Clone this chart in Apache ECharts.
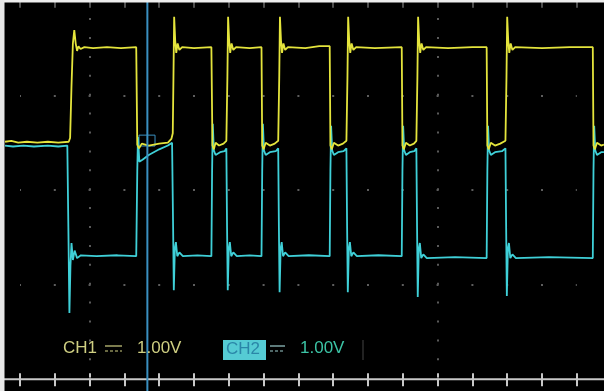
<!DOCTYPE html>
<html>
<head>
<meta charset="utf-8">
<script src="https://cdn.jsdelivr.net/npm/echarts@6/dist/echarts.min.js"></script>
<style>
html,body{margin:0;padding:0;background:#000;}
#c{width:604px;height:391px;}
</style>
</head>
<body>
<div id="c"></div>
<script>
// x in horizontal tick units, y in divisions (1.00 V/div)
var xTicks = {min: 1, max: 17, step: 1};
var xView = {min: 0.569, max: 17.782};
var yDivs = {min: -2, max: 2, step: 1};

var ch1 = [
[0.57,0.51],[0.75,0.52],[0.95,0.50],[1.2,0.51],[1.5,0.50],[1.8,0.51],[2.1,0.50],[2.40,0.51],
[2.44,0.55],[2.48,1.10],[2.52,1.55],[2.56,1.69],[2.60,1.55],[2.64,1.47],[2.68,1.52],[2.74,1.49],[2.85,1.51],[3.1,1.50],[3.5,1.51],[3.9,1.50],[4.34,1.51],
[4.37,0.48],[4.42,0.44],[4.5,0.49],[4.7,0.47],[5.0,0.49],[5.25,0.50],[5.35,0.54],[5.39,0.60],
[5.41,1.20],[5.43,1.83],[5.46,1.58],[5.49,1.45],[5.53,1.55],[5.58,1.48],[5.66,1.51],[6.0,1.50],[6.5,1.51],
[6.53,0.47],[6.57,0.43],[6.62,0.50],[6.72,0.47],[6.85,0.49],[6.93,0.52],
[6.96,1.20],[6.98,1.83],[7.01,1.58],[7.04,1.45],[7.08,1.55],[7.13,1.48],[7.21,1.51],[7.6,1.50],[7.94,1.51],
[7.96,0.47],[8.0,0.43],[8.06,0.50],[8.18,0.47],[8.32,0.49],[8.42,0.52],
[8.45,1.20],[8.47,1.83],[8.50,1.58],[8.53,1.45],[8.57,1.55],[8.62,1.48],[8.70,1.51],[9.2,1.50],[9.6,1.52],[9.90,1.52],
[9.92,0.47],[9.96,0.43],[10.02,0.50],[10.14,0.47],[10.28,0.49],[10.38,0.52],
[10.41,1.20],[10.43,1.83],[10.46,1.58],[10.49,1.45],[10.53,1.55],[10.58,1.48],[10.66,1.51],[11.2,1.50],[11.97,1.51],
[11.99,0.47],[12.03,0.43],[12.09,0.50],[12.2,0.47],[12.32,0.49],[12.39,0.52],
[12.42,1.20],[12.44,1.83],[12.47,1.58],[12.50,1.45],[12.54,1.55],[12.59,1.48],[12.67,1.51],[13.3,1.50],[14.0,1.51],[14.41,1.51],
[14.43,0.47],[14.47,0.43],[14.53,0.50],[14.65,0.47],[14.8,0.49],[14.95,0.52],
[14.98,1.20],[15.00,1.83],[15.03,1.58],[15.06,1.45],[15.10,1.55],[15.15,1.48],[15.23,1.51],[16.0,1.50],[16.8,1.51],[17.46,1.51],
[17.48,0.47],[17.52,0.43],[17.58,0.50],[17.7,0.47],[17.78,0.48]
];

var ch2 = [
[0.57,0.47],[0.8,0.46],[1.1,0.47],[1.4,0.46],[1.8,0.47],[2.1,0.46],[2.36,0.47],
[2.39,-0.40],[2.42,-1.30],[2.45,-0.80],[2.48,-0.56],[2.52,-0.74],[2.57,-0.64],[2.64,-0.72],[2.75,-0.69],[3.2,-0.70],[3.8,-0.69],[4.34,-0.70],
[4.37,0.20],[4.39,0.56],[4.43,0.30],[4.52,0.32],[4.7,0.37],[5.0,0.43],[5.25,0.47],[5.37,0.50],
[5.40,-0.40],[5.42,-1.06],[5.45,-0.62],[5.48,-0.55],[5.52,-0.70],[5.58,-0.66],[5.68,-0.70],[6.1,-0.69],[6.5,-0.70],
[6.52,0.20],[6.54,0.70],[6.57,0.42],[6.62,0.37],[6.75,0.40],[6.88,0.41],[6.93,0.44],
[6.95,-0.40],[6.97,-1.06],[7.00,-0.62],[7.03,-0.55],[7.07,-0.70],[7.13,-0.66],[7.23,-0.70],[7.6,-0.69],[7.94,-0.70],
[7.96,0.20],[7.98,0.70],[8.01,0.42],[8.06,0.37],[8.18,0.40],[8.35,0.41],[8.42,0.44],
[8.44,-0.40],[8.46,-1.08],[8.49,-0.62],[8.52,-0.55],[8.56,-0.70],[8.62,-0.66],[8.72,-0.70],[9.3,-0.69],[9.90,-0.70],
[9.92,0.20],[9.94,0.68],[9.97,0.42],[10.02,0.37],[10.14,0.40],[10.3,0.41],[10.38,0.44],
[10.40,-0.40],[10.42,-1.08],[10.45,-0.62],[10.48,-0.55],[10.52,-0.70],[10.58,-0.66],[10.68,-0.70],[11.3,-0.69],[11.97,-0.70],
[11.99,0.20],[12.01,0.68],[12.04,0.42],[12.09,0.37],[12.2,0.40],[12.33,0.41],[12.39,0.44],
[12.41,-0.40],[12.43,-1.13],[12.46,-0.62],[12.49,-0.56],[12.53,-0.72],[12.59,-0.68],[12.69,-0.72],[13.5,-0.71],[14.41,-0.72],
[14.43,0.20],[14.45,0.68],[14.48,0.42],[14.53,0.37],[14.65,0.40],[14.85,0.41],[14.95,0.44],
[14.97,-0.40],[14.99,-1.12],[15.02,-0.62],[15.05,-0.56],[15.09,-0.72],[15.15,-0.68],[15.25,-0.72],[16.2,-0.71],[17.46,-0.72],
[17.48,0.20],[17.50,0.68],[17.53,0.42],[17.58,0.37],[17.7,0.40],[17.78,0.40]
];

var dotColumns = [3, 13];
var cursorX = 4.66;
var triggerBox = [[4.42, 0.58], [4.88, 0.465]];
var labels = {ch1: 'CH1', ch1Scale: '1.00V', ch2: 'CH2', ch2Scale: '1.00V'};

var chart = echarts.init(document.getElementById('c'), null, {renderer: 'canvas'});

function tickAx(pos, inside, len, color, w) {
  return {
    type: 'value', gridIndex: 1, position: pos, min: xTicks.min, max: xTicks.max, interval: xTicks.step,
    axisLine: {show: false, onZero: false},
    axisTick: {show: true, inside: inside, length: len, lineStyle: {color: color, width: w}},
    axisLabel: {show: false}, splitLine: {show: false}
  };
}

var option = {
  backgroundColor: '#000',
  animation: false,
  grid: [
    {left: 5, right: 0, top: 0.8, bottom: 11.8, containLabel: false},
    {left: 20, right: 27.2, top: 0.8, bottom: 11.8, containLabel: false}
  ],
  xAxis: [
    {type: 'value', gridIndex: 0, min: xView.min, max: xView.max, show: false},
    tickAx('bottom', true, 6, '#c8c8c8', 2),
    tickAx('bottom', false, 7, '#c8c8c8', 2),
    tickAx('top', true, 7, '#6a6a6a', 1.5)
  ],
  yAxis: [
    {type: 'value', gridIndex: 0, min: yDivs.min, max: yDivs.max, show: false},
    {
      type: 'value', gridIndex: 1, min: yDivs.min, max: yDivs.max, interval: yDivs.step,
      axisLine: {show: false}, axisTick: {show: false}, axisLabel: {show: false},
      splitLine: {show: true, lineStyle: {color: '#5e5e5e', width: 2, type: [2, 32.8], dashOffset: 1}}
    }
  ],
  series: [
    {
      type: 'line', name: 'CH2', data: ch2, showSymbol: false, z: 3, xAxisIndex: 0, yAxisIndex: 0,
      lineStyle: {color: '#3fd0d8', width: 1.8},
      markLine: {
        silent: true, symbol: 'none', label: {show: false},
        lineStyle: {color: '#5a5a5a', width: 2, type: [2, 16.9]},
        data: dotColumns.map(function (v) { return {xAxis: v}; })
      },
      markArea: {
        silent: true,
        itemStyle: {color: 'rgba(0,0,0,0)', borderColor: '#3a90c0', borderWidth: 1},
        data: [[{coord: triggerBox[0]}, {coord: triggerBox[1]}]]
      }
    },
    {
      type: 'line', name: 'CH1', data: ch1, showSymbol: false, z: 4, xAxisIndex: 0, yAxisIndex: 0,
      lineStyle: {color: '#e4e43c', width: 1.8}
    }
  ]
};
chart.setOption(option);

var cx = chart.convertToPixel({xAxisIndex: 0}, cursorX);
var axisY = chart.convertToPixel({yAxisIndex: 0}, yDivs.min);
var yel = '#cfcf82', cyTxt = '#3cc4a6';
chart.setOption({
  graphic: [
    {type: 'line', shape: {x1: 0, y1: axisY, x2: 604, y2: axisY}, style: {stroke: '#c8c8c8', lineWidth: 2}, z: 40},
    {type: 'line', shape: {x1: cx, y1: 0, x2: cx, y2: 391}, style: {stroke: '#3a8fc0', lineWidth: 2}, z: 50},
    {type: 'text', left: 63, top: 340, style: {text: labels.ch1, fill: yel, font: '17px "Liberation Sans", Arial, sans-serif'}, z: 60},
    {type: 'line', shape: {x1: 105, y1: 346, x2: 122, y2: 346}, style: {stroke: yel, lineWidth: 1.2}, z: 60},
    {type: 'line', shape: {x1: 105, y1: 351, x2: 122, y2: 351}, style: {stroke: yel, lineWidth: 1.2, lineDash: [3, 2]}, z: 60},
    {type: 'text', left: 137, top: 340, style: {text: labels.ch1Scale, fill: yel, font: '17px "Liberation Sans", Arial, sans-serif'}, z: 60},
    {type: 'rect', shape: {x: 223, y: 340, width: 43, height: 20}, style: {fill: '#55cbd4'}, z: 60},
    {type: 'text', left: 226, top: 341, style: {text: labels.ch2, fill: '#2a86a8', font: '17px "Liberation Sans", Arial, sans-serif'}, z: 61},
    {type: 'line', shape: {x1: 270, y1: 346, x2: 285, y2: 346}, style: {stroke: '#9ccccc', lineWidth: 1.2}, z: 60},
    {type: 'line', shape: {x1: 270, y1: 351, x2: 285, y2: 351}, style: {stroke: '#9ccccc', lineWidth: 1.2, lineDash: [3, 2]}, z: 60},
    {type: 'text', left: 300, top: 340, style: {text: labels.ch2Scale, fill: cyTxt, font: '17px "Liberation Sans", Arial, sans-serif'}, z: 60},
    {type: 'line', shape: {x1: 363, y1: 340, x2: 363, y2: 360}, style: {stroke: '#444', lineWidth: 1}, z: 60},
    {type: 'rect', shape: {x: 0, y: 0, width: 604, height: 2.5}, style: {fill: '#eeeeee'}, z: 100},
    {type: 'rect', shape: {x: 0, y: 0, width: 4.5, height: 391}, style: {fill: '#e8e8e8'}, z: 100}
  ]
});
</script>
</body>
</html>
